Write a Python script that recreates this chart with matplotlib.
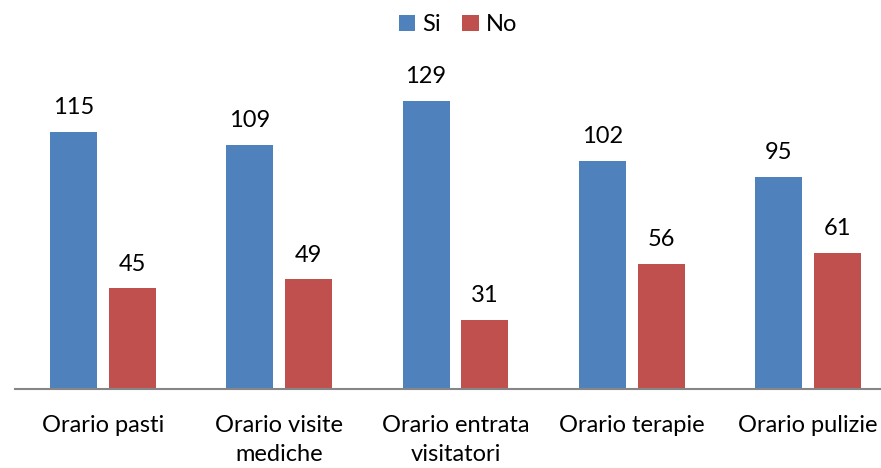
import numpy as np
import matplotlib.pyplot as plt

plt.rcParams['font.family'] = ['Lato', 'DejaVu Sans']

categories = ["Orario pasti", "Orario visite\nmediche", "Orario entrata\nvisitatori",
              "Orario terapie", "Orario pulizie"]
si_values = [115, 109, 129, 102, 95]
no_values = [45, 49, 31, 56, 61]

blue = "#4F81BD"
red = "#C0504D"

fig = plt.figure(figsize=(8.81, 4.68), dpi=100)
ax = fig.add_axes([15 / 881, 79 / 468, 881 / 881, 313 / 468])

x = np.arange(len(categories))
w = 0.267
off = 0.167
b1 = ax.bar(x - off, si_values, w, color=blue, label="Si")
b2 = ax.bar(x + off, no_values, w, color=red, label="No")

for bars, vals in ((b1, si_values), (b2, no_values)):
    for rect, v in zip(bars, vals):
        ax.annotate(str(v), (rect.get_x() + rect.get_width() / 2, v),
                    xytext=(0, 10), textcoords="offset points",
                    ha="center", va="bottom", fontsize=17)

ax.set_xlim(-0.5, len(categories) - 0.5)
ax.set_ylim(0, 140)
ax.set_yticks([])
ax.set_xticks(x)
ax.set_xticklabels(categories, fontsize=17, linespacing=1.45)
ax.tick_params(axis="x", length=0, pad=19)
for s in ("top", "right", "left"):
    ax.spines[s].set_visible(False)
ax.spines["bottom"].set_color("#868686")
ax.spines["bottom"].set_linewidth(1.5)

fig.legend(loc="upper center", bbox_to_anchor=(0.52, 1.015), ncol=2, frameon=False,
           fontsize=17, handlelength=0.7, handleheight=0.7, handletextpad=0.3,
           columnspacing=0.9)

fig.savefig("out.png", dpi=100)
